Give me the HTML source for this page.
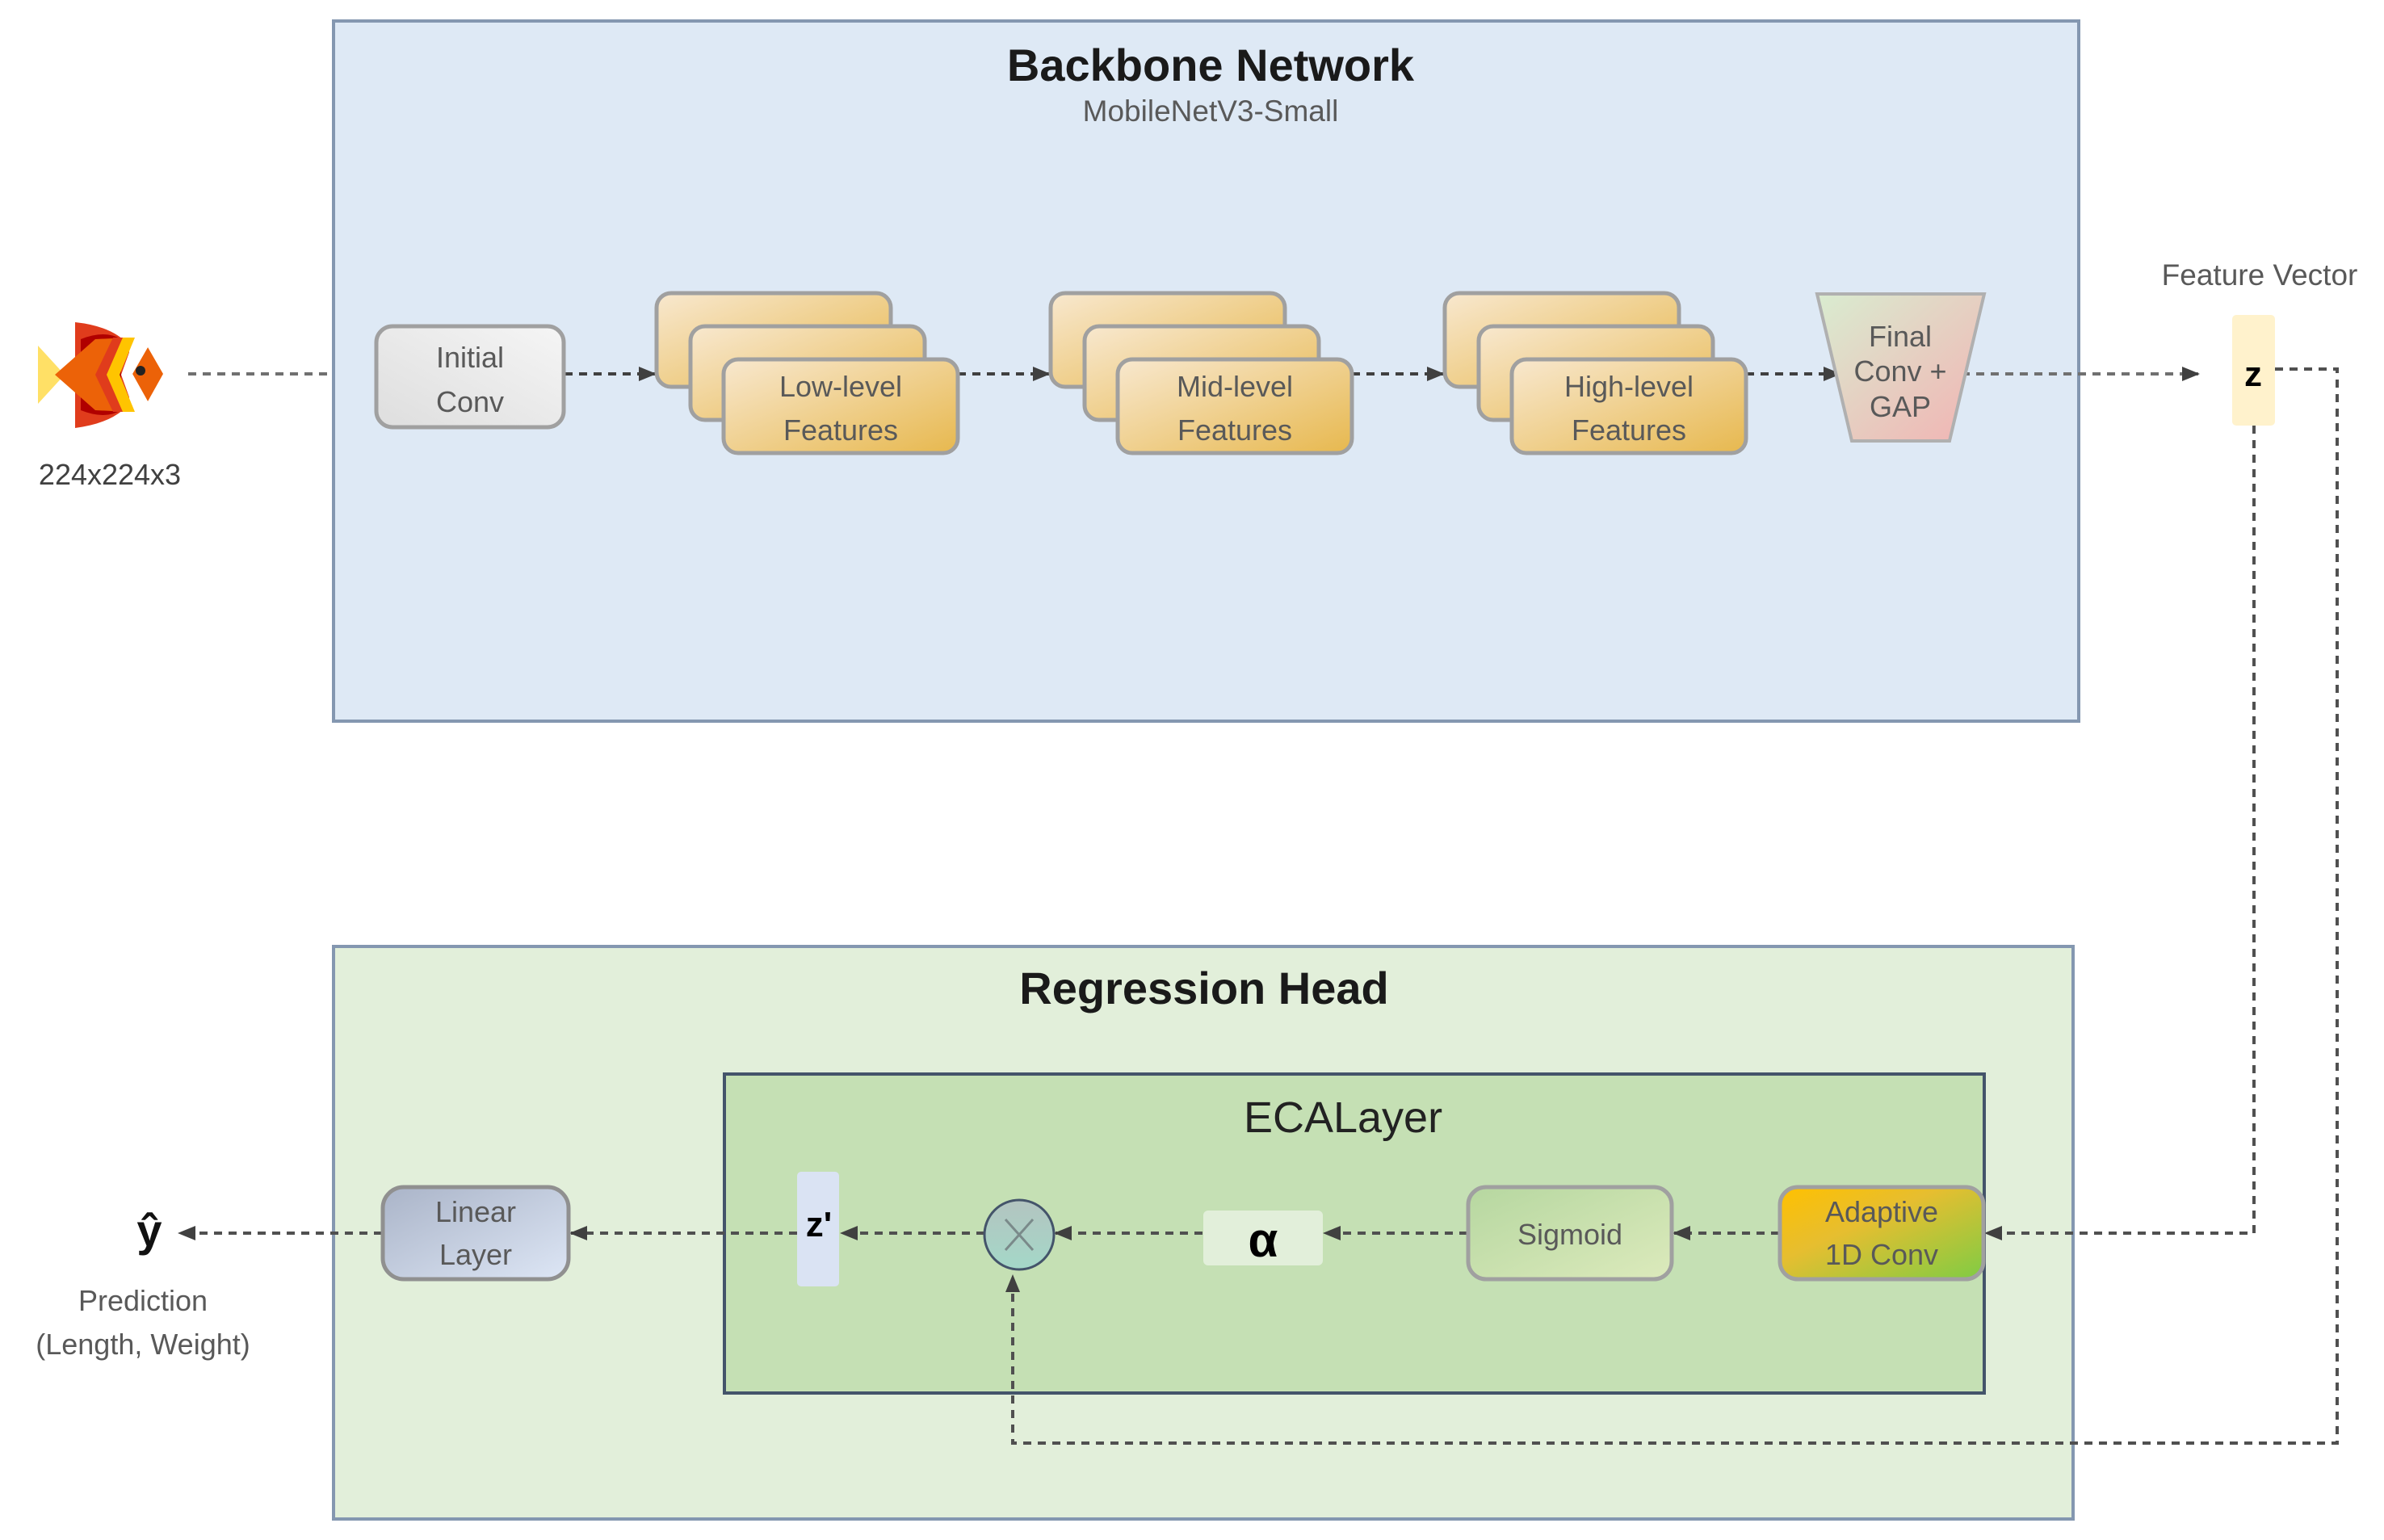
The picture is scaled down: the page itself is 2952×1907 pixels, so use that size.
<!DOCTYPE html>
<html><head><meta charset="utf-8"><style>
html,body{margin:0;padding:0;background:#fff}
svg{display:block}
text{font-family:"Liberation Sans",sans-serif}
</style></head><body>
<svg width="2952" height="1907" viewBox="0 0 2952 1907" xmlns="http://www.w3.org/2000/svg">
<defs>
<linearGradient id="gold" x1="0" y1="0" x2="1" y2="1"><stop offset="0" stop-color="#f8e8cf"/><stop offset="1" stop-color="#e7b84e"/></linearGradient>
<linearGradient id="gray" x1="1" y1="0" x2="0" y2="1"><stop offset="0" stop-color="#f5f5f5"/><stop offset="1" stop-color="#dedede"/></linearGradient>
<linearGradient id="trap" x1="0" y1="0" x2="1" y2="1"><stop offset="0" stop-color="#d9ecd0"/><stop offset="1" stop-color="#f2b3b3"/></linearGradient>
<linearGradient id="ada" x1="0" y1="0" x2="1" y2="1"><stop offset="0" stop-color="#ffc000"/><stop offset="0.4" stop-color="#e6be30"/><stop offset="1" stop-color="#7fcc44"/></linearGradient>
<linearGradient id="sig" x1="0" y1="0" x2="1" y2="1"><stop offset="0" stop-color="#b6d7a0"/><stop offset="1" stop-color="#dceabc"/></linearGradient>
<linearGradient id="lin" x1="0" y1="0" x2="1" y2="1"><stop offset="0" stop-color="#aab4c8"/><stop offset="1" stop-color="#dde6f5"/></linearGradient>
<linearGradient id="circ" x1="0" y1="0" x2="0" y2="1"><stop offset="0" stop-color="#b3c4c0"/><stop offset="1" stop-color="#a4d8c8"/></linearGradient>
<marker id="ar" markerWidth="10" markerHeight="10" refX="9" refY="5" orient="auto" markerUnits="userSpaceOnUse" viewBox="0 0 10 10"><path d="M0,0 L10,5 L0,10 z" fill="#404040"/></marker>
<marker id="arb" markerWidth="22" markerHeight="22" refX="20" refY="11" orient="auto" markerUnits="userSpaceOnUse" viewBox="0 0 22 22"><path d="M0,2 L22,11 L0,20 z" fill="#404040"/></marker>
</defs>

<!-- Backbone -->
<rect x="413" y="26" width="2161" height="867" fill="#dee9f5" stroke="#8497b0" stroke-width="4"/>
<text x="1499" y="100" font-size="56" font-weight="bold" text-anchor="middle" fill="#1a1a1a">Backbone Network</text>
<text x="1499" y="150" font-size="37" text-anchor="middle" fill="#595959">MobileNetV3-Small</text>

<!-- fish -->
<polygon points="47,428 47,500 80,464" fill="#ffe066"/>
<path d="M93,399 Q140,404 160,428 L160,500 Q140,524 93,530 z" fill="#e03c1c"/>
<path d="M100,420 Q130,408 150,420 L150,508 Q130,520 100,508 z" fill="#b00000"/>
<polygon points="68,464 118,420 160,418 140,464 160,510 118,508" fill="#ec6208"/>
<polygon points="140,418 155,418 134,464 155,510 140,510 118,464" fill="#e03c1c"/>
<polygon points="152,418 167,418 148,464 167,510 152,510 132,464" fill="#ffc400"/>
<polygon points="183,430 202,463 183,497 164,463" fill="#ec6208"/>
<path d="M163,428 L183,430 L164,463 L183,497 L163,500 L150,464 z" fill="#ffffff"/>
<circle cx="174" cy="459" r="6" fill="#222"/>
<text x="136" y="600" font-size="36" text-anchor="middle" fill="#404040">224x224x3</text>

<!-- connectors top -->
<g stroke="#707070" stroke-width="4" stroke-dasharray="10,8" fill="none">
<line x1="233" y1="463" x2="413" y2="463"/>
<line x1="2429" y1="463" x2="2722" y2="463" marker-end="url(#arb)"/>
</g>
<g stroke="#404040" stroke-width="4" stroke-dasharray="10,8" fill="none">
<line x1="699" y1="463" x2="811" y2="463" marker-end="url(#arb)"/>
<line x1="1186" y1="463" x2="1299" y2="463" marker-end="url(#arb)"/>
<line x1="1674" y1="463" x2="1787" y2="463" marker-end="url(#arb)"/>
<line x1="2162" y1="463" x2="2278" y2="463" marker-end="url(#arb)"/>
</g>

<!-- Initial conv -->
<rect x="466" y="404" width="232" height="125" rx="20" fill="url(#gray)" stroke="#a0a0a0" stroke-width="5"/>
<text x="582" y="455" font-size="36" text-anchor="middle" fill="#595959">Initial</text>
<text x="582" y="510" font-size="36" text-anchor="middle" fill="#595959">Conv</text>

<!-- stacks -->
<g id="stk">
<rect x="813" y="363" width="290" height="116" rx="18" fill="url(#gold)" stroke="#a0a0a0" stroke-width="5"/>
<rect x="855" y="404" width="290" height="116" rx="18" fill="url(#gold)" stroke="#a0a0a0" stroke-width="5"/>
<rect x="896" y="445" width="290" height="116" rx="18" fill="url(#gold)" stroke="#a0a0a0" stroke-width="5"/>
</g>
<use href="#stk" x="488"/>
<use href="#stk" x="976"/>
<text x="1041" y="491" font-size="36" text-anchor="middle" fill="#595959">Low-level</text>
<text x="1041" y="545" font-size="36" text-anchor="middle" fill="#595959">Features</text>
<text x="1529" y="491" font-size="36" text-anchor="middle" fill="#595959">Mid-level</text>
<text x="1529" y="545" font-size="36" text-anchor="middle" fill="#595959">Features</text>
<text x="2017" y="491" font-size="36" text-anchor="middle" fill="#595959">High-level</text>
<text x="2017" y="545" font-size="36" text-anchor="middle" fill="#595959">Features</text>

<!-- trapezoid -->
<polygon points="2250,364 2457,364 2414,546 2293,546" fill="url(#trap)" stroke="#b0b0b0" stroke-width="4"/>
<text x="2353" y="429" font-size="36" text-anchor="middle" fill="#595959">Final</text>
<text x="2353" y="472" font-size="36" text-anchor="middle" fill="#595959">Conv +</text>
<text x="2353" y="516" font-size="36" text-anchor="middle" fill="#595959">GAP</text>

<!-- z -->
<text x="2798" y="353" font-size="37" text-anchor="middle" fill="#595959">Feature Vector</text>
<rect x="2764" y="390" width="53" height="137" rx="5" fill="#fff2cc"/>
<text x="2790" y="478" font-size="44" font-weight="bold" text-anchor="middle" fill="#000">z</text>

<!-- Regression head -->
<rect x="413" y="1172" width="2154" height="709" fill="#e2efda" stroke="#8497b0" stroke-width="4"/>
<text x="1491" y="1243" font-size="56" font-weight="bold" text-anchor="middle" fill="#1a1a1a">Regression Head</text>
<rect x="897" y="1330" width="1560" height="395" fill="#c5e0b4" stroke="#44546a" stroke-width="4"/>
<text x="1663" y="1402" font-size="54" text-anchor="middle" fill="#222">ECALayer</text>

<!-- long connectors -->
<g stroke="#505050" stroke-width="4" stroke-dasharray="10,8" fill="none">
<polyline points="2817,457 2894,457 2894,1787 1254,1787 1254,1580" marker-end="url(#arb)"/>
<polyline points="2791,527 2791,1527 2459,1527" marker-end="url(#arb)"/>
<line x1="2203" y1="1527" x2="2073" y2="1527" marker-end="url(#arb)"/>
<line x1="1817" y1="1527" x2="1640" y2="1527" marker-end="url(#arb)"/>
<line x1="1489" y1="1527" x2="1307" y2="1527" marker-end="url(#arb)"/>
<line x1="1219" y1="1527" x2="1042" y2="1527" marker-end="url(#arb)"/>
<line x1="987" y1="1527" x2="707" y2="1527" marker-end="url(#arb)"/>
<line x1="473" y1="1527" x2="222" y2="1527" marker-end="url(#arb)"/>
</g>

<!-- Adaptive -->
<rect x="2204" y="1470" width="252" height="114" rx="22" fill="url(#ada)" stroke="#a0a0a0" stroke-width="5"/>
<text x="2330" y="1513" font-size="36" text-anchor="middle" fill="#595959">Adaptive</text>
<text x="2330" y="1566" font-size="36" text-anchor="middle" fill="#595959">1D Conv</text>
<!-- Sigmoid -->
<rect x="1818" y="1470" width="252" height="114" rx="22" fill="url(#sig)" stroke="#a0a0a0" stroke-width="5"/>
<text x="1944" y="1541" font-size="36" text-anchor="middle" fill="#595959">Sigmoid</text>
<!-- alpha -->
<rect x="1490" y="1499" width="148" height="68" rx="6" fill="#e2efda"/>
<text x="1564" y="1556" font-size="60" font-weight="bold" text-anchor="middle" fill="#000">α</text>
<!-- circle -->
<ellipse cx="1262" cy="1529" rx="43" ry="43" fill="url(#circ)" stroke="#44546a" stroke-width="3"/>
<line x1="1245" y1="1510" x2="1279" y2="1548" stroke="#7a8a8a" stroke-width="3"/>
<line x1="1279" y1="1510" x2="1245" y2="1548" stroke="#7a8a8a" stroke-width="3"/>
<!-- z' -->
<rect x="987" y="1451" width="52" height="142" rx="5" fill="#dae3f3"/>
<text x="1014" y="1531" font-size="44" font-weight="bold" text-anchor="middle" fill="#000">z'</text>
<!-- Linear -->
<rect x="474" y="1470" width="230" height="114" rx="26" fill="url(#lin)" stroke="#909090" stroke-width="5"/>
<text x="589" y="1513" font-size="36" text-anchor="middle" fill="#595959">Linear</text>
<text x="589" y="1566" font-size="36" text-anchor="middle" fill="#595959">Layer</text>
<!-- y hat -->
<text x="185" y="1543" font-size="56" font-weight="bold" text-anchor="middle" fill="#111">ŷ</text>
<text x="177" y="1623" font-size="36" text-anchor="middle" fill="#595959">Prediction</text>
<text x="177" y="1677" font-size="36" text-anchor="middle" fill="#595959">(Length, Weight)</text>
</svg>
</body></html>
